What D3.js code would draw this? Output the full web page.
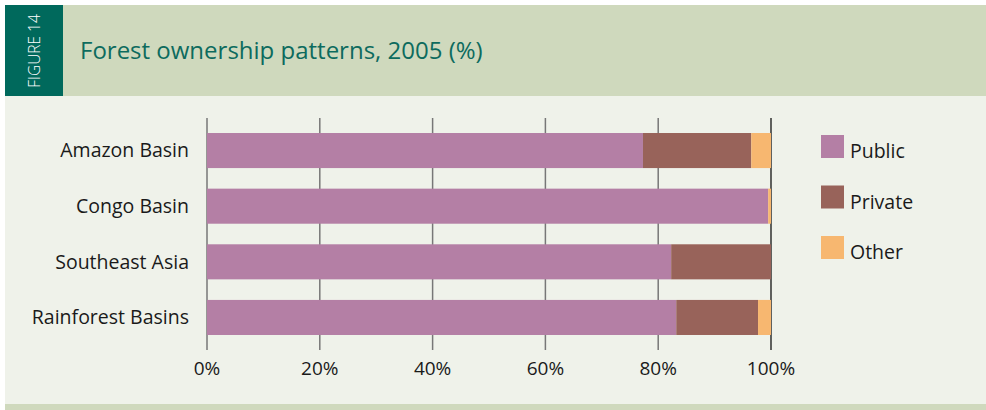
<!DOCTYPE html>
<html>
<head>
<meta charset="utf-8">
<script src="https://cdn.jsdelivr.net/npm/d3@7"></script>
<style>
  body { margin: 0; background: #fff; }
  svg text { font-family: "Open Sans", "Noto Sans", sans-serif; }
</style>
</head>
<body>
<svg id="chart" width="986" height="410"></svg>
<script>
// data (percent of forest area)
var regions = ["Amazon Basin", "Congo Basin", "Southeast Asia", "Rainforest Basins"];
var publicShare  = [77.3, 99.5, 82.3, 83.2];
var privateShare = [19.2, 0, 17.7, 14.5];
var otherShare   = [3.5, 0.5, 0, 2.3];
var seriesNames  = ["Public", "Private", "Other"];
var tickValues   = [0, 20, 40, 60, 80, 100];

var colors = ["#b47fa5", "#98635a", "#f7b770"];

var svg = d3.select("#chart");

// panel backgrounds
svg.append("rect").attr("x", 5).attr("y", 5).attr("width", 981).attr("height", 405).attr("fill", "#eff2ea");
svg.append("rect").attr("x", 5).attr("y", 5).attr("width", 981).attr("height", 91).attr("fill", "#cfd9bd");
svg.append("rect").attr("x", 5).attr("y", 5).attr("width", 58).attr("height", 91).attr("fill", "#00695c");
svg.append("rect").attr("x", 5).attr("y", 404).attr("width", 981).attr("height", 6).attr("fill", "#cfd9bd");

svg.append("text")
    .attr("transform", "translate(40,51) rotate(-90)")
    .attr("text-anchor", "middle")
    .attr("fill", "#fff")
    .attr("font-size", 15.5)
    .attr("font-weight", 300)
    .text("FIGURE 14");

svg.append("text")
    .attr("x", 80).attr("y", 59)
    .attr("fill", "#0d6b5e")
    .attr("font-size", 24)
    .text("Forest ownership patterns, 2005 (%)");

var table = regions.map(function(r, i) {
    return {region: r, Public: publicShare[i], Private: privateShare[i], Other: otherShare[i]};
});

var x = d3.scaleLinear().domain([0, 100]).range([207, 771]);
var y = d3.scaleBand().domain(regions).range([123, 345]).paddingInner(0.37).paddingOuter(0.18);

// grid lines (drawn behind bars)
svg.append("g").selectAll("line")
    .data(tickValues)
    .enter().append("line")
    .attr("x1", function(d) { return x(d); })
    .attr("x2", function(d) { return x(d); })
    .attr("y1", 118).attr("y2", 350)
    .attr("stroke", function(d) { return d == 100 ? "#111" : "#777"; })
    .attr("stroke-width", function(d) { return d == 100 ? 1.3 : 1.5; });

var stack = d3.stack().keys(seriesNames)(table);

svg.append("g").selectAll("g")
    .data(stack)
    .enter().append("g")
    .attr("fill", function(d, i) { return colors[i]; })
    .selectAll("rect")
    .data(function(d) { return d; })
    .enter().append("rect")
    .attr("x", function(d) { return x(d[0]); })
    .attr("width", function(d) { return x(d[1]) - x(d[0]); })
    .attr("y", function(d) { return y(d.data.region); })
    .attr("height", y.bandwidth());

// category labels
svg.append("g").selectAll("text")
    .data(regions)
    .enter().append("text")
    .attr("x", 189)
    .attr("y", function(d) { return y(d) + y.bandwidth() / 2; })
    .attr("dy", "0.35em")
    .attr("text-anchor", "end")
    .attr("font-size", 19.5)
    .attr("fill", "#1a1a1a")
    .text(function(d) { return d; });

// x axis labels
svg.append("g").selectAll("text")
    .data(tickValues)
    .enter().append("text")
    .attr("x", function(d) { return x(d); })
    .attr("y", 375)
    .attr("text-anchor", "middle")
    .attr("font-size", 19)
    .attr("fill", "#1a1a1a")
    .text(function(d) { return d + "%"; });

// legend
var legend = svg.append("g").selectAll("g")
    .data(seriesNames)
    .enter().append("g")
    .attr("transform", function(d, i) { return "translate(821," + (135 + i * 50.5) + ")"; });

legend.append("rect")
    .attr("width", 23).attr("height", 23)
    .attr("fill", function(d, i) { return colors[i]; });

legend.append("text")
    .attr("x", 29).attr("y", 23)
    .attr("font-size", 19.5)
    .attr("fill", "#1a1a1a")
    .text(function(d) { return d; });
</script>
</body>
</html>
